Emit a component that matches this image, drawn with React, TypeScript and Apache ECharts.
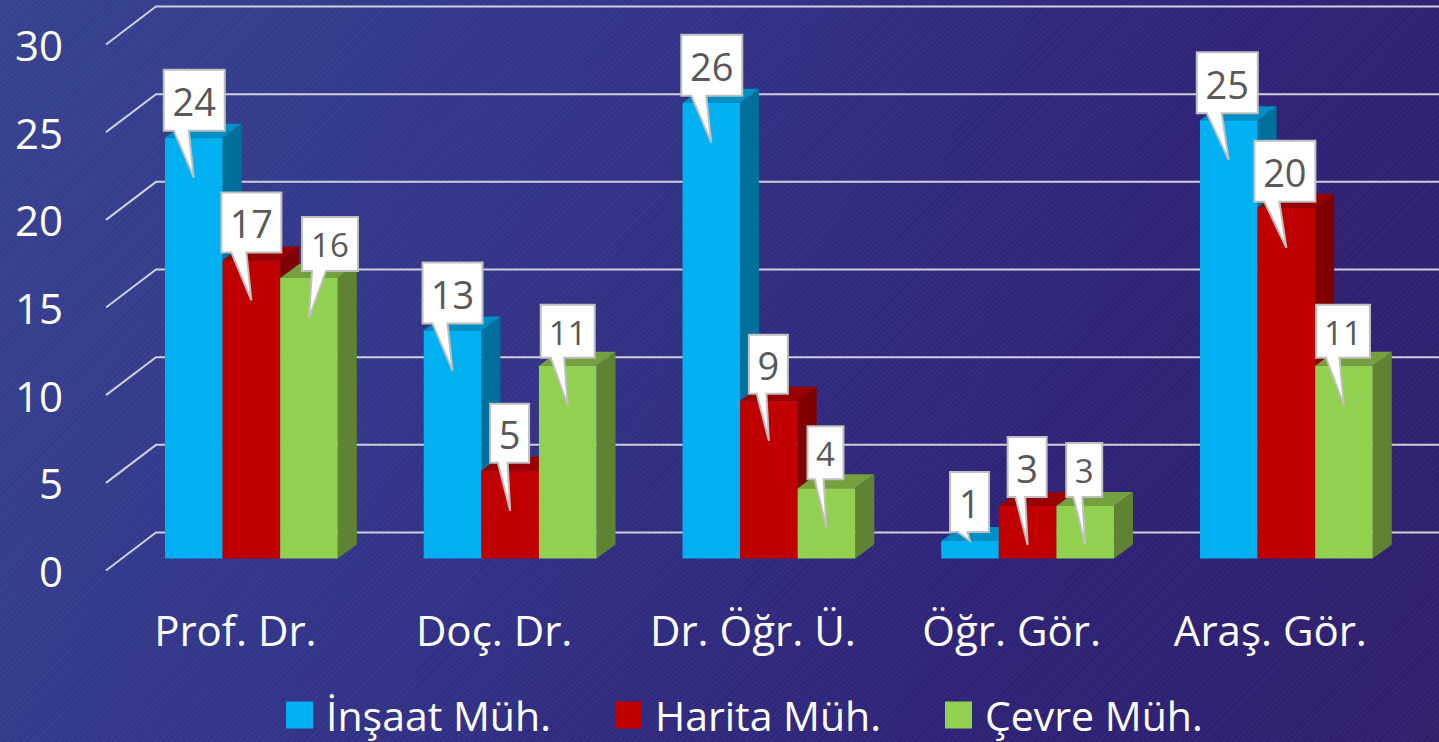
import React, { useEffect, useRef } from "react";
import * as echarts from "echarts";

const categories = ["Prof. Dr.", "Doç. Dr.", "Dr. Öğr. Ü.", "Öğr. Gör.", "Araş. Gör."];
const insaat = [24, 13, 26, 1, 25];
const harita = [17, 5, 9, 3, 20];
const cevre = [16, 11, 4, 3, 11];
const ticks = [0, 5, 10, 15, 20, 25, 30];
const seriesNames = ["İnşaat Müh.", "Harita Müh.", "Çevre Müh."];

const FONT = "'Open Sans', Lato, sans-serif";
const GRID_LEFT = 106;
const GRID_TOP = 44.5;
const GRID_BOTTOM_Y = 570.5;
const BAND = 258.75;
const BAR_W = 57.6;
// depth of the pseudo-3D scene
const WALL_DX = 50, WALL_DY = -38;
const BAR_DX = 16, BAR_DY = -12;
const SIDE_DX = 19, SIDE_DY = -14;

const palette = [
  { front: "#00B0F0", top: "#008FC4", side: "#006F9B" },
  { front: "#C00000", top: "#990000", side: "#7F0000" },
  { front: "#92D050", top: "#75A03F", side: "#5F8333" },
];

// callout box geometry, relative to the bar top-centre: [left, top, width, height, fontSize]
const calloutLayout: number[][][] = [
  [[-30, -68, 61, 61, 38], [-30, -68, 60, 61, 38], [-30, -68, 61, 61, 38], [-20, -69, 39, 60, 38], [-32, -68, 61, 61, 38]],
  [[-30, -68, 60, 60, 38], [-20, -67, 39, 59, 38], [-20, -66, 39, 59, 38], [-20, -69, 39, 60, 38], [-32, -67, 61, 61, 38]],
  [[-7, -61, 56, 54, 33], [-27, -61, 54, 53, 33], [-19, -62, 36, 53, 33], [-19, -63, 36, 54, 33], [-28, -61, 54, 53, 33]],
];

function barGeom(api: any, seriesIdx: number, catIdx: number, value: number) {
  const p = api.coord([catIdx, value]);
  const b = api.coord([catIdx, 0]);
  const cx = p[0] + BAR_DX + (seriesIdx - 1) * BAR_W;
  return {
    x0: cx - BAR_W / 2,
    x1: cx + BAR_W / 2,
    yTop: p[1] + BAR_DY,
    yBot: b[1] + BAR_DY,
    cx,
  };
}

function renderBar(seriesIdx: number) {
  const c = palette[seriesIdx];
  return (_: any, api: any) => {
    const g = barGeom(api, seriesIdx, api.value(0), api.value(1));
    const { x0, x1, yTop, yBot } = g;
    return {
      type: "group",
      children: [
        {
          type: "polygon",
          shape: { points: [[x1, yTop], [x1 + SIDE_DX, yTop + SIDE_DY], [x1 + SIDE_DX, yBot + SIDE_DY], [x1, yBot]] },
          style: { fill: c.side },
        },
        {
          type: "polygon",
          shape: { points: [[x0, yTop], [x0 + SIDE_DX, yTop + SIDE_DY], [x1 + SIDE_DX, yTop + SIDE_DY], [x1, yTop]] },
          style: { fill: c.top },
        },
        {
          type: "rect",
          shape: { x: x0, y: yTop, width: BAR_W, height: yBot - yTop },
          style: { fill: c.front },
        },
      ],
    };
  };
}

function renderCallout(seriesIdx: number) {
  return (_: any, api: any) => {
    const catIdx = api.value(0);
    const value = api.value(1);
    const g = barGeom(api, seriesIdx, catIdx, value);
    const [l, t, w, h, fs] = calloutLayout[seriesIdx][catIdx];
    const bx = g.cx + l, by = g.yTop + t;
    const tipX = g.cx, tipY = g.yTop + (value < 2 ? 0 : value < 4 ? 39 : 40);
    const baseL = bx + Math.min(10, w * 0.2), baseR = baseL + Math.min(15, w * 0.25);
    return {
      type: "group",
      children: [
        {
          type: "polygon",
          shape: { points: [[bx, by], [bx + w, by], [bx + w, by + h], [baseR, by + h], [tipX, tipY], [baseL, by + h], [bx, by + h]] },
          style: { fill: "#FFFFFF", stroke: "#BFBFBF", lineWidth: 2 },
        },
        {
          type: "text",
          style: {
            x: bx + w / 2,
            y: by + h / 2 + 1,
            text: String(value),
            fill: "#595959",
            fontFamily: FONT,
            fontSize: fs,
            align: "center",
            verticalAlign: "middle",
          },
        },
      ],
    };
  };
}

function renderWallLine(_: any, api: any) {
  const p = api.coord([0, api.value(0)]);
  const x = GRID_LEFT;
  const y = p[1];
  return {
    type: "polyline",
    shape: { points: [[x, y], [x + WALL_DX, y + WALL_DY], [1445, y + WALL_DY]] },
    style: { stroke: "#CFCFDB", lineWidth: 2, fill: "none" },
  };
}

const values = [insaat, harita, cevre];

export default function App() {
  const ref = useRef<HTMLDivElement>(null);
  useEffect(() => {
    document.body.style.margin = "0";
    document.body.style.overflow = "hidden";
    const chart = echarts.init(ref.current!, undefined, { renderer: "svg" });
    chart.setOption({
      animation: false,
      backgroundColor: "transparent",
      grid: {
        left: GRID_LEFT,
        top: GRID_TOP,
        width: BAND * categories.length,
        height: GRID_BOTTOM_Y - GRID_TOP,
      },
      xAxis: {
        type: "category",
        data: categories,
        axisLine: { show: false },
        axisTick: { show: false },
        axisLabel: { color: "#FFFFFF", fontFamily: FONT, fontSize: 42, margin: 38, interval: 0 },
      },
      yAxis: {
        type: "value",
        min: 0,
        max: 30,
        interval: 5,
        splitLine: { show: false },
        axisLine: { show: false },
        axisTick: { show: false },
        axisLabel: { color: "#FFFFFF", fontFamily: FONT, fontSize: 42, margin: 43 },
      },
      legend: {
        left: 281,
        top: 689,
        itemWidth: 27,
        itemHeight: 27,
        itemGap: 64,
        data: seriesNames.map((name, i) => ({ name, icon: "rect", itemStyle: { color: palette[i].front } })),
        textStyle: { color: "#FFFFFF", fontFamily: FONT, fontSize: 41, lineHeight: 42, padding: [0, 0, 0, 8] },
      },
      series: [
        {
          type: "custom",
          name: "grid",
          coordinateSystem: "cartesian2d",
          encode: { y: 0 },
          data: ticks.map((t) => [t]),
          renderItem: renderWallLine,
          silent: true,
          z: 1,
        },
        ...seriesNames.map((name, i) => ({
          type: "custom",
          name,
          coordinateSystem: "cartesian2d",
          encode: { x: 0, y: 1 },
          itemStyle: { color: palette[i].front },
          data: values[i].map((v, c) => [c, v]),
          renderItem: renderBar(i),
          z: 2 + i,
        })),
        ...seriesNames.map((name, i) => ({
          type: "custom",
          name: name + " label",
          coordinateSystem: "cartesian2d",
          encode: { x: 0, y: 1 },
          data: values[i].map((v, c) => [c, v]),
          renderItem: renderCallout(i),
          z: 10 + i,
        })),
      ],
    });
    return () => chart.dispose();
  }, []);
  return (
    <div
      style={{
        position: "fixed",
        left: 0,
        top: 0,
        width: 1439,
        height: 742,
        background:
          "repeating-linear-gradient(135deg, rgba(255,255,255,0.025) 0 2px, rgba(0,0,0,0.025) 2px 4px), linear-gradient(115deg, #364391 0%, #32348A 35%, #2E2277 75%, #30206E 100%)",
      }}
    >
      <div ref={ref} style={{ width: 1439, height: 742 }} />
    </div>
  );
}
